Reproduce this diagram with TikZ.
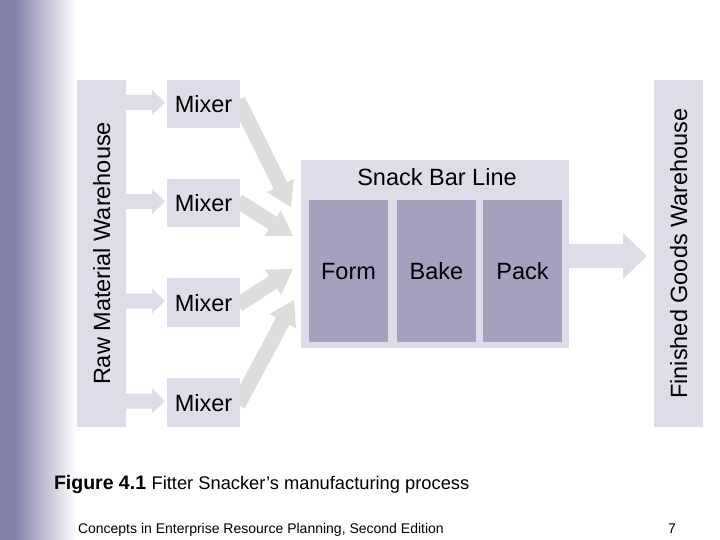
\documentclass[tikz,border=0pt]{standalone}
\usepackage{fontspec}
\setmainfont{Liberation Sans}
\usetikzlibrary{calc,backgrounds}
\definecolor{boxlight}{RGB}{221,220,232}
\definecolor{boxdark}{RGB}{163,161,190}
\definecolor{arrowgrey}{RGB}{221,221,221}
\definecolor{bandcol}{RGB}{130,127,168}
% #1 style, #2 start, #3 tip, #4 shaft half width, #5 head half width, #6 head length
\newcommand\fatarrow[6]{%
  \coordinate (fac) at ($(#3)!#6!(#2)$);
  \fill[#1] ($(#2)!#4!90:(#3)$) -- ($(fac)!#4!90:(#3)$) -- ($(fac)!#5!90:(#3)$) -- (#3)
    -- ($(fac)!#5!-90:(#3)$) -- ($(fac)!#4!-90:(#3)$) -- ($(#2)!#4!-90:(#3)$) -- cycle;}
\tikzset{
  lbltext/.style={font=\fontsize{23.5bp}{28bp}\selectfont, text height=17bp, text depth=0pt},
  lightbox/.style={fill=boxlight, inner sep=0pt, outer sep=0pt, lbltext},
  darkbox/.style={fill=boxdark, inner sep=0pt, outer sep=0pt, lbltext},
  mixerbox/.style={lightbox, minimum width=73bp, minimum height=48.5bp},
  stagebox/.style={darkbox, minimum width=79bp, minimum height=142bp},
  whbox/.style={lightbox, rotate=90, minimum width=347bp, minimum height=49bp},
  plaintext/.style={inner sep=0pt, outer sep=0pt},
}
\begin{document}
\begin{tikzpicture}[x=1bp,y=-1bp]
\useasboundingbox (0,0) rectangle (720,540);
% warehouses
\node[whbox] (raw) at (101.5,253.5) {Raw Material Warehouse};
\node[whbox] (fin) at (678.5,253.5) {Finished Goods Warehouse};
% mixers
\node[mixerbox] (m1) at (203.5,104) {Mixer};
\node[mixerbox] (m2) at (203.5,203) {Mixer};
\node[mixerbox] (m3) at (203.5,302.5) {Mixer};
\node[mixerbox] (m4) at (203.5,402.5) {Mixer};
% snack bar line
\node[lightbox, minimum width=268bp, minimum height=188bp] (line) at (435,254) {};
\node[plaintext, lbltext] (linetitle) at (437,177) {Snack Bar Line};
\node[stagebox] (form) at (348.5,271) {Form};
\node[stagebox] (bake) at (436.5,271) {Bake};
\node[stagebox] (pack) at (522.5,271) {Pack};
% caption and footer
\node[plaintext, anchor=base west] (cap) at (54,489)
  {\fontsize{19.5bp}{23bp}\selectfont\bfseries Figure 4.1\hspace{5.5bp}\fontsize{18.3bp}{22bp}\selectfont\mdseries Fitter Snacker’s manufacturing process};
\node[plaintext, anchor=base west, font=\fontsize{14bp}{17bp}\selectfont] (foot) at (78,533)
  {Concepts in Enterprise Resource Planning, Second Edition};
\node[plaintext, anchor=base, font=\fontsize{14bp}{17bp}\selectfont] (pg) at (672,533) {7};
% connectors
\begin{pgfonlayer}{background}
  \fill[bandcol] (0,0) rectangle (14,540);
  \shade[left color=bandcol, right color=white] (14,0) rectangle (76,540);
  \foreach \m in {m1,m2,m3,m4}{
    \coordinate (s\m) at ($(raw.south |- \m.center)+(-1,-1.5)$);
    \coordinate (t\m) at ($(\m.west)+(-2,-1.5)$);
    \fatarrow{boxlight}{s\m}{t\m}{7.5bp}{12.5bp}{13bp}
  }
  \coordinate (d1s) at ($(m1.east)+(-2,-4)$);
  \coordinate (d2s) at ($(m2.east)+(-2,-2)$);
  \coordinate (d3s) at ($(m3.east)+(-2,2.5)$);
  \coordinate (d4s) at ($(m4.east)+(-2,2.5)$);
  \coordinate (d1t) at ($(line.west)+(-10,-47)$);
  \coordinate (d2t) at ($(line.west)+(-8,-18)$);
  \coordinate (d3t) at ($(line.west)+(-8,15)$);
  \coordinate (d4t) at ($(line.west)+(-7,46)$);
  \fatarrow{arrowgrey}{d1s}{d1t}{7.5bp}{15bp}{24bp}
  \fatarrow{arrowgrey}{d2s}{d2t}{7.5bp}{15bp}{24bp}
  \fatarrow{arrowgrey}{d3s}{d3t}{7.5bp}{15bp}{24bp}
  \fatarrow{arrowgrey}{d4s}{d4t}{7.5bp}{15bp}{24bp}
  \coordinate (bs) at ($(line.east)+(-1,2)$);
  \coordinate (bt) at ($(fin.north)+(-7,2.5)$);
  \fatarrow{boxlight}{bs}{bt}{12bp}{23bp}{24bp}
\end{pgfonlayer}
\end{tikzpicture}
\end{document}
